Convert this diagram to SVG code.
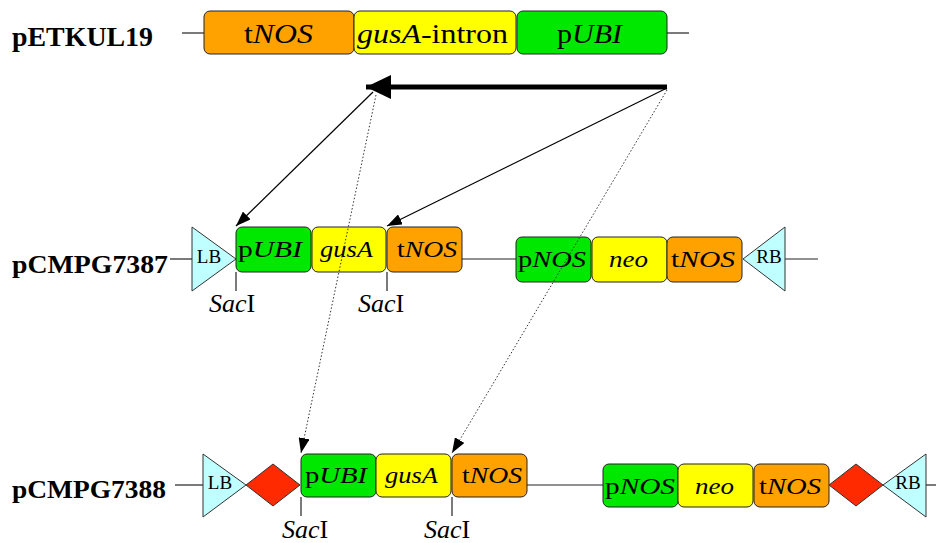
<svg xmlns="http://www.w3.org/2000/svg" width="936" height="543" viewBox="0 0 936 543">
<defs>
<style>
text{font-family:"Liberation Serif","Times New Roman",serif;fill:#000}
.lbl{font-weight:bold}
.box{stroke:#222;stroke-width:1}
.or{fill:#FFA200}
.ye{fill:#FFFF00}
.gr{fill:#00E800}
.cy{fill:#BFFFFF;stroke:#333;stroke-width:1}
.rd{fill:#FF2A00;stroke:#333;stroke-width:1}
.bb{fill:none;stroke:#222;stroke-width:1.2}
.r1{font-size:28px}
.r2{font-size:23px}
.bd{font-size:19px}
.sac{font-size:26px}
.thin{stroke:#000;stroke-width:1.2;fill:none}
.dot{stroke:#333;stroke-width:1;fill:none;stroke-dasharray:1.5 2}
.thick{stroke:#000;stroke-width:5;fill:none}
</style>
<marker id="ah" markerUnits="userSpaceOnUse" markerWidth="15" markerHeight="11" refX="15" refY="5.5" orient="auto">
<path d="M0,0 L15,5.5 L0,11 z" fill="#000"/>
</marker>
<marker id="ahb" markerUnits="userSpaceOnUse" markerWidth="25" markerHeight="24" refX="25" refY="12" orient="auto">
<path d="M0,0 L25,12 L0,24 z" fill="#000"/>
</marker>
</defs>

<!-- Row 1: pETKUL19 -->
<g id="pETKUL19">
<text class="lbl" x="12" y="46" font-size="28" textLength="141" lengthAdjust="spacingAndGlyphs">pETKUL19</text>
<line class="bb" x1="182" y1="33" x2="204" y2="33"/>
<line class="bb" x1="667" y1="33" x2="689" y2="33"/>
</g>
<g id="r1-tNOS">
<rect class="box or" x="204" y="11" width="150" height="43" rx="6"/>
<text class="r1" x="244" y="43" textLength="69" lengthAdjust="spacingAndGlyphs">t<tspan font-style="italic">NOS</tspan></text>
</g>
<g id="r1-gusA-intron">
<rect class="box ye" x="354" y="11" width="162" height="43" rx="6"/>
<text class="r1" x="357" y="43" textLength="151" lengthAdjust="spacingAndGlyphs"><tspan font-style="italic">gusA</tspan>-intron</text>
</g>
<g id="r1-pUBI">
<rect class="box gr" x="517" y="11" width="150" height="43" rx="6"/>
<text class="r1" x="557" y="43" textLength="65" lengthAdjust="spacingAndGlyphs">p<tspan font-style="italic">UBI</tspan></text>
</g>

<!-- Row 2: pCMPG7387 -->
<g id="pCMPG7387">
<text class="lbl" x="12" y="273" font-size="26" textLength="156" lengthAdjust="spacingAndGlyphs">pCMPG7387</text>
<line class="bb" x1="170" y1="259" x2="192" y2="259"/>
<line class="bb" x1="462" y1="259" x2="516" y2="259"/>
<line class="bb" x1="785" y1="259" x2="818" y2="259"/>
</g>
<g id="r2-LB">
<polygon class="cy" points="192,227 236,259 192,291"/>
<text class="bd" x="209" y="263" text-anchor="middle">LB</text>
</g>
<g id="r2-pUBI">
<rect class="box gr" x="236" y="227" width="75" height="45" rx="6"/>
<text class="r2" x="238" y="257" textLength="64" lengthAdjust="spacingAndGlyphs">p<tspan font-style="italic">UBI</tspan></text>
</g>
<g id="r2-gusA">
<rect class="box ye" x="312" y="227" width="74" height="45" rx="6"/>
<text class="r2" x="320" y="257" textLength="53" lengthAdjust="spacingAndGlyphs" font-style="italic">gusA</text>
</g>
<g id="r2-tNOS">
<rect class="box or" x="387" y="227" width="75" height="45" rx="6"/>
<text class="r2" x="397" y="257" textLength="60" lengthAdjust="spacingAndGlyphs">t<tspan font-style="italic">NOS</tspan></text>
</g>
<g id="r2-pNOS">
<rect class="box gr" x="516" y="237" width="75" height="45" rx="6"/>
<text class="r2" x="518" y="267" textLength="68" lengthAdjust="spacingAndGlyphs">p<tspan font-style="italic">NOS</tspan></text>
</g>
<g id="r2-neo">
<rect class="box ye" x="592" y="237" width="75" height="45" rx="6"/>
<text class="r2" x="609" y="267" textLength="39" lengthAdjust="spacingAndGlyphs" font-style="italic">neo</text>
</g>
<g id="r2-tNOS2">
<rect class="box or" x="667" y="237" width="75" height="45" rx="6"/>
<text class="r2" x="671" y="267" textLength="64" lengthAdjust="spacingAndGlyphs">t<tspan font-style="italic">NOS</tspan></text>
</g>
<g id="r2-RB">
<polygon class="cy" points="785,227 743,259 785,291"/>
<text class="bd" x="769" y="263" text-anchor="middle">RB</text>
</g>
<g id="r2-SacI-1">
<line class="bb" x1="236" y1="272" x2="236" y2="291"/>
<text class="sac" x="232" y="312" text-anchor="middle"><tspan font-style="italic">Sac</tspan>I</text>
</g>
<g id="r2-SacI-2">
<line class="bb" x1="387" y1="272" x2="387" y2="291"/>
<text class="sac" x="381" y="312" text-anchor="middle"><tspan font-style="italic">Sac</tspan>I</text>
</g>

<!-- Row 3: pCMPG7388 -->
<g id="pCMPG7388">
<text class="lbl" x="12" y="498" font-size="26" textLength="154" lengthAdjust="spacingAndGlyphs">pCMPG7388</text>
<line class="bb" x1="175" y1="485" x2="203" y2="485"/>
<line class="bb" x1="527" y1="485" x2="603" y2="485"/>
<line class="bb" x1="926" y1="485" x2="936" y2="485"/>
</g>
<g id="r3-LB">
<polygon class="cy" points="203,454 246,485 203,517"/>
<text class="bd" x="220" y="489" text-anchor="middle">LB</text>
</g>
<g id="r3-site-L">
<polygon class="rd" points="246,485 273,464 300,485 273,506"/>
</g>
<g id="r3-pUBI">
<rect class="box gr" x="301" y="454" width="75" height="43" rx="6"/>
<text class="r2" x="305" y="483" textLength="62" lengthAdjust="spacingAndGlyphs">p<tspan font-style="italic">UBI</tspan></text>
</g>
<g id="r3-gusA">
<rect class="box ye" x="376" y="454" width="75" height="43" rx="6"/>
<text class="r2" x="385" y="483" textLength="53" lengthAdjust="spacingAndGlyphs" font-style="italic">gusA</text>
</g>
<g id="r3-tNOS">
<rect class="box or" x="452" y="454" width="75" height="43" rx="6"/>
<text class="r2" x="462" y="483" textLength="60" lengthAdjust="spacingAndGlyphs">t<tspan font-style="italic">NOS</tspan></text>
</g>
<g id="r3-pNOS">
<rect class="box gr" x="603" y="464" width="75" height="43" rx="6"/>
<text class="r2" x="605" y="494" textLength="70" lengthAdjust="spacingAndGlyphs">p<tspan font-style="italic">NOS</tspan></text>
</g>
<g id="r3-neo">
<rect class="box ye" x="678" y="464" width="75" height="43" rx="6"/>
<text class="r2" x="695" y="494" textLength="39" lengthAdjust="spacingAndGlyphs" font-style="italic">neo</text>
</g>
<g id="r3-tNOS2">
<rect class="box or" x="754" y="464" width="75" height="43" rx="6"/>
<text class="r2" x="759" y="494" textLength="62" lengthAdjust="spacingAndGlyphs">t<tspan font-style="italic">NOS</tspan></text>
</g>
<g id="r3-site-R">
<polygon class="rd" points="829,485 856,464 883,485 856,506"/>
</g>
<g id="r3-RB">
<polygon class="cy" points="926,454 883,485 926,517"/>
<text class="bd" x="908" y="489" text-anchor="middle">RB</text>
</g>
<g id="r3-SacI-1">
<line class="bb" x1="301" y1="497" x2="301" y2="516"/>
<text class="sac" x="305" y="538" text-anchor="middle"><tspan font-style="italic">Sac</tspan>I</text>
</g>
<g id="r3-SacI-2">
<line class="bb" x1="452" y1="497" x2="452" y2="516"/>
<text class="sac" x="447" y="538" text-anchor="middle"><tspan font-style="italic">Sac</tspan>I</text>
</g>

<!-- Connectors -->
<g id="connectors">
<line class="thick" x1="667" y1="87" x2="366" y2="87" marker-end="url(#ahb)"/>
<line class="thin" x1="373" y1="92" x2="236" y2="226" marker-end="url(#ah)"/>
<line class="thin" x1="667" y1="88" x2="387" y2="226" marker-end="url(#ah)"/>
<line class="dot" x1="376" y1="95" x2="301" y2="453" marker-end="url(#ah)"/>
<line class="dot" x1="667" y1="90" x2="452" y2="453" marker-end="url(#ah)"/>
</g>
</svg>
